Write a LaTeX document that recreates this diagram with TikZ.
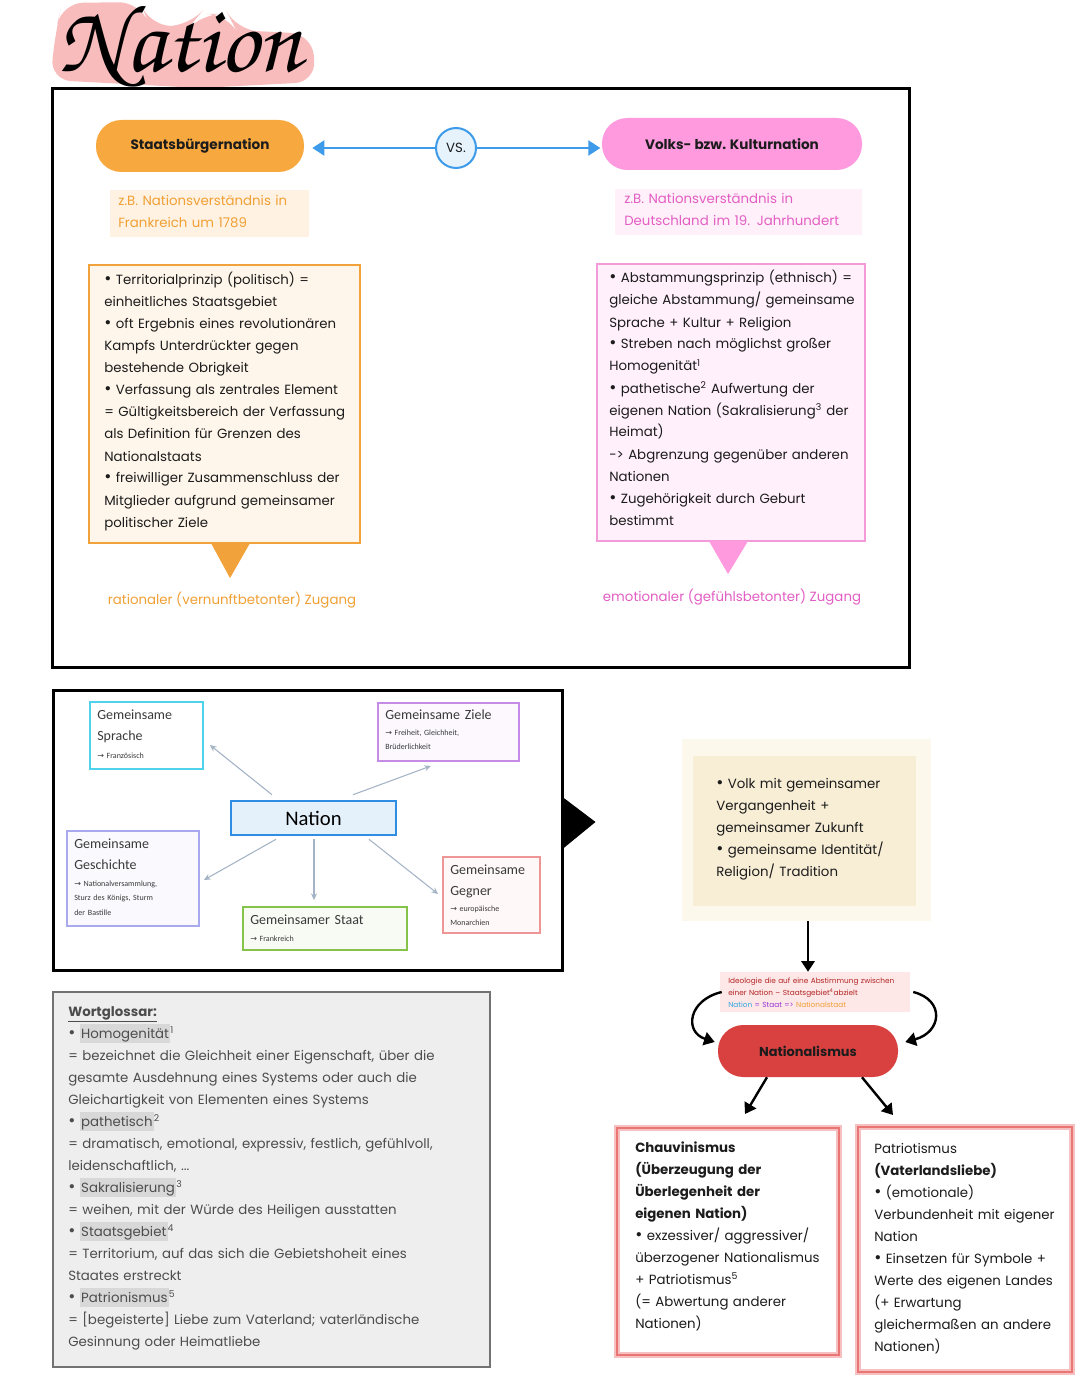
\documentclass[tikz,border=0pt]{standalone}
\usepackage{fontspec}
\newfontfamily\hand{Poppins}
\newfontfamily\calib{Carlito}
\newfontfamily\symf{DejaVu Sans}
\usetikzlibrary{fit,arrows.meta,calc}
\definecolor{ink}{HTML}{1C1C1C}
\definecolor{orF}{HTML}{F7A93F}
\definecolor{orT}{HTML}{F0A035}
\definecolor{orB}{HTML}{F2A23A}
\definecolor{orL}{HTML}{FFF6EB}
\definecolor{orZ}{HTML}{FFF2E2}
\definecolor{pkF}{HTML}{FF9ADF}
\definecolor{pkT}{HTML}{E35EC4}
\definecolor{pkB}{HTML}{F39BD9}
\definecolor{pkL}{HTML}{FFF0FB}
\definecolor{pkZ}{HTML}{FFF0F9}
\definecolor{blA}{HTML}{3D9BE9}
\definecolor{blL}{HTML}{E6F3FD}
\definecolor{mmcyan}{HTML}{4FD3EA}
\definecolor{mmviolet}{HTML}{C58BE6}
\definecolor{mmlav}{HTML}{A9A9EE}
\definecolor{mmgreen}{HTML}{86C34A}
\definecolor{mmsalmon}{HTML}{EE9696}
\definecolor{mmblue}{HTML}{2F8DE4}
\definecolor{mmblueL}{HTML}{E4F1FB}
\definecolor{mmarrow}{HTML}{A4B4C6}
\definecolor{mmtext}{HTML}{3A3A3A}
\definecolor{yO}{HTML}{FDF8EC}
\definecolor{yI}{HTML}{F8EED6}
\definecolor{idF}{HTML}{FDE7E7}
\definecolor{idR}{HTML}{B32424}
\definecolor{idP}{HTML}{9A35D6}
\definecolor{idB}{HTML}{35A7E0}
\definecolor{natR}{HTML}{D94141}
\definecolor{chO}{HTML}{F7C0C0}
\definecolor{chI}{HTML}{E97575}
\definecolor{glB}{HTML}{727272}
\definecolor{glF}{HTML}{EEEEEE}
\definecolor{glT}{HTML}{4D4D4D}
\definecolor{hlg}{HTML}{D8D8D8}
\definecolor{ttl}{HTML}{F8BCBC}
\newcommand\rar{{\symf →}}
\newcommand\hlt[1]{{\setlength{\fboxsep}{1pt}\colorbox{hlg}{\vphantom{Ág}#1}}}
\newcommand\sps[1]{\textsuperscript{#1}}
\newcommand\bul{{\fontsize{13}{13}\selectfont•}}
\begin{document}
\begin{tikzpicture}[x=0.75pt,y=-0.75pt,
  txt/.style={font=\hand\fontsize{10}{16.5}\selectfont, text=ink, inner sep=0pt},
  boldt/.style={txt, font=\hand\bfseries\fontsize{10.2}{12}\selectfont},
  blockt/.style={txt, anchor=base west, text width=340pt, align=left},
  pill/.style={rounded corners=19pt, inner sep=0pt},
  frame/.style={draw=black, line width=2.25pt, inner sep=0pt},
  mmbox/.style={line width=1.4pt, inner sep=0pt},
  mmbig/.style={font=\calib\fontsize{10.5}{16}\selectfont, text=mmtext, anchor=base west, inner sep=0pt, text width=150pt, align=left},
  mmsmall/.style={font=\calib\fontsize{6}{11}\selectfont, text=mmtext, anchor=base west, inner sep=0pt, text width=150pt, align=left},
  mmarr/.style={draw=mmarrow, line width=0.8pt, -{Stealth[length=5pt,width=4.5pt]}},
  blkarr/.style={draw=black, line width=1.8pt, -{Triangle[length=8pt,width=10pt]}},
  toparr/.style={draw=blA, line width=2.2pt},
]
\useasboundingbox (0,0) rectangle (1080,1394);
\fill[white] (0,0) rectangle (1080,1394);

% ---------- title ----------
\fill[ttl, rounded corners=16pt] (50,80) -- (56,30) -- (62,3) -- (140,2) -- (150,26)
  -- (190,26) -- (200,14) -- (228,14) -- (236,30) -- (312,34) -- (316,82) -- (200,88) -- cycle;
\node[inner sep=0pt, font={\fontsize{72}{72}\usefont{OT1}{pzc}{m}{it}}] (title) at (180,46) {Nation};

% ---------- box 1 ----------
\node[frame, fit={(52,89)(909,667)}] (top) {};
\node[pill, fill=orF, fit={(96,120)(304,172)}] (sbn) {};
\node[boldt] (sbnt) at (sbn.center) {Staatsbürgernation};
\node[pill, fill=pkF, fit={(602,118)(862,170)}] (vks) {};
\node[boldt] (vkst) at (vks.center) {Volks- bzw. Kulturnation};
\node[circle, draw=blA, fill=blL, line width=1.5pt, minimum size=30pt, txt] (vs) at (456,148) {VS.};
\draw[toparr, {Triangle[length=9pt,width=11pt]}-, shorten <=6pt] (sbn.east |- vs.west) -- (vs.west);
\draw[toparr, -{Triangle[length=9pt,width=11pt]}, shorten >=1pt] (vs.east) -- (vks.west |- vs.east);

\node[fill=orZ, inner sep=0pt, fit={(110,190)(309,237)}] (zbl) {};
\node[blockt, text=orT] (zblt) at (118,206) {z.B. Nationsverständnis in\\Frankreich um 1789};
\node[fill=pkZ, inner sep=0pt, fit={(615,189)(862,235)}] (zbr) {};
\node[blockt, text=pkT] (zbrt) at (624,204) {z.B. Nationsverständnis in\\Deutschland im 19. Jahrhundert};

\node[draw=orB, fill=orL, line width=1.6pt, inner sep=0pt, fit={(89,265)(360,543)}] (lbox) {};
\fill[orB] ([shift={(-13.5,-1)}]lbox.south) -- ([shift={(25.5,-1)}]lbox.south) -- ([shift={(5.5,34)}]lbox.south) -- cycle;
\node[blockt] (ltx) at (104,285) {\bul\ Territorialprinzip (politisch) =\\
einheitliches Staatsgebiet\\
\bul\ oft Ergebnis eines revolutionären\\
Kampfs Unterdrückter gegen\\
bestehende Obrigkeit\\
\bul\ Verfassung als zentrales Element\\
= Gültigkeitsbereich der Verfassung\\
als Definition für Grenzen des\\
Nationalstaats\\
\bul\ freiwilliger Zusammenschluss der\\
Mitglieder aufgrund gemeinsamer\\
politischer Ziele};

\node[draw=pkB, fill=pkL, line width=1.6pt, inner sep=0pt, fit={(597,264)(865,541)}] (rbox) {};
\fill[pkF] ([shift={(-22,-1)}]rbox.south) -- ([shift={(17,-1)}]rbox.south) -- ([shift={(-3,32)}]rbox.south) -- cycle;
\node[blockt] (rtx) at (609,283) {\bul\ Abstammungsprinzip (ethnisch) =\\
gleiche Abstammung/ gemeinsame\\
Sprache + Kultur + Religion\\
\bul\ Streben nach möglichst großer\\
Homogenität\sps{1}\\
\bul\ pathetische\sps{2} Aufwertung der\\
eigenen Nation (Sakralisierung\sps{3} der\\
Heimat)\\
-> Abgrenzung gegenüber anderen\\
Nationen\\
\bul\ Zugehörigkeit durch Geburt\\
bestimmt};

\node[txt, text=orT] (ratz) at (232,600) {rationaler (vernunftbetonter) Zugang};
\node[txt, text=pkT] (emoz) at (732,597) {emotionaler (gefühlsbetonter) Zugang};

% ---------- box 2: mind map ----------
\node[frame, fill=white, fit={(53,690)(562,970)}] (mm) {};
\fill[black] ([shift={(-1,-33)}]mm.east) -- ([shift={(32,-8)}]mm.east) -- ([shift={(-1,19)}]mm.east) -- cycle;

\node[draw=mmblue, fill=mmblueL, line width=1.9pt, inner sep=0pt, fit={(231,801)(396,835)}] (mnat) {};
\node[font=\calib\fontsize{15.5}{18}\selectfont, text=black, inner sep=0pt] (mnatt) at (mnat.center) {Nation};
\node[mmbox, draw=mmcyan, fill=white, fit={(90,702)(203,769)}] (spr) {};
\node[mmbig] (sprt) at (97,719) {Gemeinsame\\Sprache};
\node[mmsmall] (sprs) at (97,758) {\rar\ Französisch};
\node[mmbox, draw=mmviolet, fill=mmviolet!6, fit={(378,703)(519,761)}] (zie) {};
\node[mmbig] (ziet) at (385,719) {Gemeinsame Ziele};
\node[mmsmall] (zies) at (385,735) {\rar\ Freiheit, Gleichheit,\\Brüderlichkeit};
\node[mmbox, draw=mmlav, fill=mmlav!6, fit={(67,831)(199,926)}] (ges) {};
\node[mmbig] (gest) at (74,848) {Gemeinsame\\Geschichte};
\node[mmsmall] (gess) at (74,886) {\rar\ Nationalversammlung,\\Sturz des Königs, Sturm\\der Bastille};
\node[mmbox, draw=mmgreen, fill=mmgreen!6, fit={(243,907)(407,950)}] (sta) {};
\node[mmbig] (stat) at (250,924) {Gemeinsamer Staat};
\node[mmsmall] (stas) at (250,941) {\rar\ Frankreich};
\node[mmbox, draw=mmsalmon, fill=mmsalmon!7, fit={(443,857)(540,933)}] (geg) {};
\node[mmbig] (gegt) at (450,874) {Gemeinsame\\Gegner};
\node[mmsmall] (gegs) at (450,911) {\rar\ europäische\\Monarchien};

\draw[mmarr] ([shift={(-41.5,-5)}]mnat.north) -- ([shift={(6,9.5)}]spr.east);
\draw[mmarr] ([shift={(39.5,-5)}]mnat.north) -- ([shift={(-17.5,4)}]zie.south);
\draw[mmarr] ([shift={(-37.5,3)}]mnat.south) -- ([shift={(4,1.5)}]ges.east);
\draw[mmarr] ([shift={(0.5,3)}]mnat.south) -- ([shift={(-11,-6)}]sta.north);
\draw[mmarr] ([shift={(55.5,3)}]mnat.south) -- ([shift={(-4,-1)}]geg.west);

% ---------- right column ----------
\node[fill=yO, inner sep=0pt, fit={(682,739)(931,921)}] (ybox) {};
\node[fill=yI, inner sep=0pt, fit={(693,756)(916,906)}] (yin) {};
\node[blockt] (ytx) at (716,788) {\bul\ Volk mit gemeinsamer\\
Vergangenheit +\\
gemeinsamer Zukunft\\
\bul\ gemeinsame Identität/\\
Religion/ Tradition};

\node[fill=idF, inner sep=0pt, fit={(720,972)(910,1012)}] (ideo) {};
\node[txt, anchor=base west, text width=200pt, align=left, font=\hand\fontsize{5.5}{9}\selectfont, text=idR] (ideot) at (728,983.5)
 {Ideologie die auf eine Abstimmung zwischen\\einer Nation – Staatsgebiet\sps{4}abzielt\\
 {\color{idB}Nation} {\color{idP}= Staat =>} {\color{orT}Nationalstaat}};

\node[pill, fill=natR, fit={(718,1025)(898,1077)}] (nat) {};
\node[boldt, font=\hand\bfseries\fontsize{9.7}{12}\selectfont] (natt) at (nat.center) {Nationalismus};

\draw[blkarr] (ybox.south -| nat.north) -- (nat.north |- ideo.north);
\draw[blkarr] ([shift={(2,0)}]ideo.west) .. controls (688,1000) and (684,1032) .. ([shift={(-3,-9)}]nat.west);
\draw[blkarr] ([shift={(3,0)}]ideo.east) .. controls (945,1000) and (942,1032) .. ([shift={(7,-9)}]nat.east);

\node[draw=chO, fill=white, line width=4.5pt, inner sep=0pt, fit={(617,1128)(839,1355)}] (chv) {};
\draw[chI, line width=1.9pt] ([shift={(3,3)}]chv.north west) rectangle ([shift={(-3,-3)}]chv.south east);
\node[draw=chO, fill=white, line width=4.5pt, inner sep=0pt, fit={(858,1127)(1072,1372)}] (pat) {};
\draw[chI, line width=1.9pt] ([shift={(3,3)}]pat.north west) rectangle ([shift={(-3,-3)}]pat.south east);

\draw[blkarr] ([shift={(-41,0)}]nat.south) -- ([shift={(17,-11)}]chv.north);
\draw[blkarr] ([shift={(54,0)}]nat.south) -- ([shift={(-72,-9)}]pat.north);

\node[blockt] (chvt) at (635,1152) {\textbf{Chauvinismus}\\
\textbf{(Überzeugung der}\\
\textbf{Überlegenheit der}\\
\textbf{eigenen Nation)}\\
\bul\ exzessiver/ aggressiver/\\
überzogener Nationalismus\\
+ Patriotismus\sps{5}\\
(= Abwertung anderer\\
Nationen)};
\node[blockt] (patt) at (874,1153) {Patriotismus\\
\textbf{(Vaterlandsliebe)}\\
\bul\ (emotionale)\\
Verbundenheit mit eigener\\
Nation\\
\bul\ Einsetzen für Symbole +\\
Werte des eigenen Landes\\
(+ Erwartung\\
gleichermaßen an andere\\
Nationen)};

% ---------- glossary ----------
\node[draw=glB, fill=glF, line width=1.9pt, inner sep=0pt, fit={(53,992)(490,1367)}] (glo) {};
\node[blockt, text=glT] (glot) at (68,1016) {\underline{\textbf{Wortglossar:}}\\
\bul\ \hlt{Homogenität}\sps{1}\\
= bezeichnet die Gleichheit einer Eigenschaft, über die\\
gesamte Ausdehnung eines Systems oder auch die\\
Gleichartigkeit von Elementen eines Systems\\
\bul\ \hlt{pathetisch}\sps{2}\\
= dramatisch, emotional, expressiv, festlich, gefühlvoll,\\
leidenschaftlich, ...\\
\bul\ \hlt{Sakralisierung}\sps{3}\\
= weihen, mit der Würde des Heiligen ausstatten\\
\bul\ \hlt{Staatsgebiet}\sps{4}\\
= Territorium, auf das sich die Gebietshoheit eines\\
Staates erstreckt\\
\bul\ \hlt{Patrionismus}\sps{5}\\
= [begeisterte] Liebe zum Vaterland; vaterländische\\
Gesinnung oder Heimatliebe};
\end{tikzpicture}
\end{document}
